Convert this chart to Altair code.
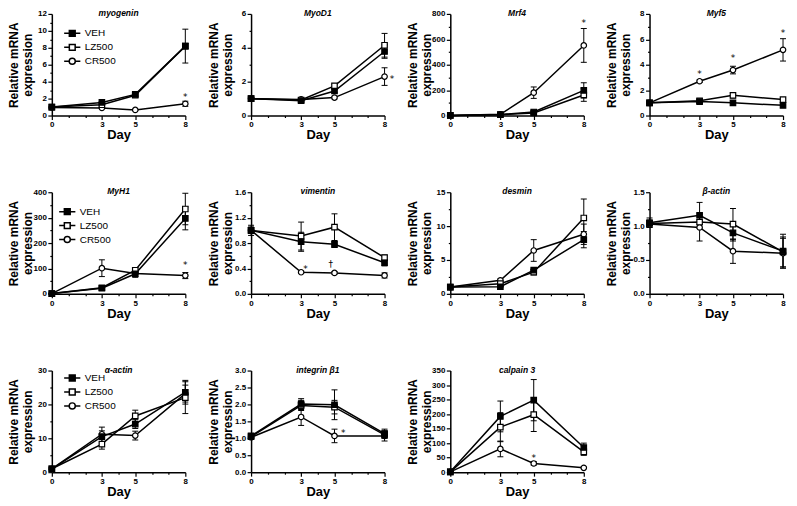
import altair as alt
import numpy as np
import pandas as pd

FONT = "Liberation Sans"
DAYS = [0, 3, 5, 8]
GROUPS = ["VEH", "LZ500", "CR500"]

MYOGENIN_MEAN = {"VEH": [1.0, 1.55, 2.5, 8.2], "LZ500": [1.0, 1.27, 2.4, 8.2], "CR500": [0.95, 0.9, 0.66, 1.39]}
MYOGENIN_ERR = {"VEH": [0.1, 0.1, 0.15, 2.0], "LZ500": [0.1, 0.1, 0.15, 0.3], "CR500": [0.05, 0.05, 0.05, 0.3]}

MYOD1_MEAN = {"VEH": [1.0, 0.87, 1.45, 3.78], "LZ500": [1.0, 0.92, 1.75, 4.15], "CR500": [1.0, 0.95, 1.06, 2.3]}
MYOD1_ERR = {"VEH": [0.05, 0.05, 0.1, 0.4], "LZ500": [0.05, 0.05, 0.1, 0.7], "CR500": [0.05, 0.05, 0.08, 0.52]}

MRF4_MEAN = {"VEH": [1, 8, 28, 198], "LZ500": [1, 6, 20, 162], "CR500": [1, 10, 180, 552]}
MRF4_ERR = {"VEH": [0, 3, 5, 60], "LZ500": [0, 3, 5, 50], "CR500": [0, 3, 45, 133]}

MYF5_MEAN = {"VEH": [1.0, 1.1, 1.0, 0.8], "LZ500": [1.0, 1.16, 1.59, 1.26], "CR500": [1.0, 2.7, 3.58, 5.17]}
MYF5_ERR = {"VEH": [0.05, 0.05, 0.05, 0.05], "LZ500": [0.05, 0.1, 0.2, 0.08], "CR500": [0.05, 0.1, 0.3, 0.88]}

MYH1_MEAN = {"VEH": [1, 22, 79, 297], "LZ500": [1, 24, 93, 334], "CR500": [1, 101, 80, 72]}
MYH1_ERR = {"VEH": [0, 3, 10, 45], "LZ500": [0, 3, 8, 62], "CR500": [0, 33, 15, 12]}

VIMENTIN_MEAN = {"VEH": [1.0, 0.82, 0.78, 0.49], "LZ500": [1.0, 0.91, 1.05, 0.57], "CR500": [1.0, 0.34, 0.33, 0.29]}
VIMENTIN_ERR = {"VEH": [0.05, 0.15, 0.05, 0.05], "LZ500": [0.08, 0.22, 0.21, 0.04], "CR500": [0.05, 0.02, 0.02, 0.04]}

DESMIN_MEAN = {"VEH": [1.0, 1.05, 3.5, 8.0], "LZ500": [1.0, 1.5, 3.2, 11.2], "CR500": [1.0, 2.0, 6.4, 8.8]}
DESMIN_ERR = {"VEH": [0.1, 0.1, 0.3, 1.2], "LZ500": [0.1, 0.2, 0.4, 2.8], "CR500": [0.1, 0.2, 1.6, 1.5]}

BACTIN_MEAN = {"VEH": [1.05, 1.16, 0.9, 0.63], "LZ500": [1.04, 1.06, 1.03, 0.62], "CR500": [1.03, 0.98, 0.63, 0.6]}
BACTIN_ERR = {"VEH": [0.07, 0.19, 0.12, 0.25], "LZ500": [0.05, 0.04, 0.23, 0.22], "CR500": [0.05, 0.2, 0.18, 0.22]}

AACTIN_MEAN = {"VEH": [1, 10.5, 14.2, 23.6], "LZ500": [1, 8.3, 16.6, 22.0], "CR500": [1, 11.2, 10.8, 23.2]}
AACTIN_ERR = {"VEH": [0.3, 2.8, 1.3, 3.5], "LZ500": [0.3, 1.5, 1.7, 4.7], "CR500": [0.3, 1.0, 1.3, 2.5]}

INTEGRIN_MEAN = {"VEH": [1.07, 2.01, 1.99, 1.14], "LZ500": [1.05, 1.97, 1.92, 1.1], "CR500": [1.03, 1.63, 1.07, 1.07]}
INTEGRIN_ERR = {"VEH": [0.07, 0.16, 0.44, 0.13], "LZ500": [0.05, 0.15, 0.2, 0.1], "CR500": [0.05, 0.25, 0.2, 0.15]}

CALPAIN_MEAN = {"VEH": [1, 192, 248, 85], "LZ500": [1, 155, 198, 70], "CR500": [1, 80, 30, 15]}
CALPAIN_ERR = {"VEH": [0, 53, 71, 15], "LZ500": [0, 50, 58, 12], "CR500": [0, 27, 6, 3]}

# significance marks: panel, day position, value, symbol
NOTE_PANEL = ["myogenin", "MyoD1", "Mrf4", "Myf5", "Myf5", "Myf5", "MyH1", "vimentin", "vimentin", "integrin β1", "calpain 3"]
NOTE_DAY = [8, 8.45, 8, 3, 5, 8, 8, 3.26, 4.77, 5.52, 5]
NOTE_VALUE = [2.4, 2.3, 745, 3.45, 4.65, 6.68, 120, 0.42, 0.5, 1.21, 57]
NOTE_TEXT = ["*", "*", "*", "*", "*", "*", "*", "*", "†", "*", "*"]

W, H = 134, 102

SQ_PATH = "M-1.25,0H-0.45M0.45,0H1.25M-0.45,-0.45H0.45V0.45H-0.45Z"
CI_PATH = "M-1.25,0H-0.47M0.47,0H1.25M0.47,0A0.47,0.47,0,1,1,-0.47,0A0.47,0.47,0,1,1,0.47,0Z"
POINT_STYLE = {"VEH": ("square", "black"), "LZ500": ("square", "white"), "CR500": ("circle", "white")}
DRAW_ORDER = ["CR500", "LZ500", "VEH"]


def major_test(step):
    return f"abs(datum.value / {step} - round(datum.value / {step})) < 0.001"


def make_panel(name, mean, err, ymax, major, minor, fmt, legend_pos=None):
    rows = []
    for g in GROUPS:
        for d, m, e in zip(DAYS, mean[g], err[g]):
            rows.append({"day": d, "group": g, "mean": m, "lo": m - e, "hi": m + e})
    df = pd.DataFrame(rows)

    ticks = [round(float(v), 4) for v in np.arange(0, ymax + minor / 2, minor)]
    ytest = major_test(major)
    yaxis = alt.Axis(
        values=ticks, format=fmt, labelExpr=f"{ytest} ? datum.label : ''",
        tickSize={"condition": {"test": ytest, "value": 4}, "value": 2},
        minExtent=15, maxExtent=15, titlePadding=2, labelOverlap=False,
    )
    xtest = "indexof([0, 3, 5, 8], datum.value) >= 0"
    xaxis = alt.Axis(
        values=list(range(9)), format="d", labelExpr=f"{xtest} ? datum.label : ''",
        tickSize={"condition": {"test": xtest, "value": 4}, "value": 2},
        labelFlush=False, labelOverlap=False, titlePadding=0,
    )
    xs = alt.Scale(domain=[0, 8], nice=False, zero=False)
    ys = alt.Scale(domain=[0, ymax], nice=False)
    ytitle = ["Relative mRNA", "expression"]

    def X():
        return alt.X("day:Q", scale=xs, axis=xaxis, title="Day")

    def Y(field):
        return alt.Y(f"{field}:Q", scale=ys, axis=yaxis, title=ytitle)

    base = alt.Chart(df)
    rule = base.mark_rule(color="black", strokeWidth=1).encode(x=X(), y=Y("lo"), y2="hi:Q")
    cap_lo = base.mark_tick(orient="horizontal", color="black", size=6, thickness=1, opacity=1).encode(x=X(), y=Y("lo"))
    cap_hi = base.mark_tick(orient="horizontal", color="black", size=6, thickness=1, opacity=1).encode(x=X(), y=Y("hi"))
    line = base.mark_line(color="black", strokeWidth=1.5).encode(x=X(), y=Y("mean"), detail="group:N")
    layers = [rule, cap_lo, cap_hi, line]

    for g in DRAW_ORDER:
        shp, fil = POINT_STYLE[g]
        layers.append(
            base.transform_filter(alt.datum.group == g)
            .mark_point(shape=shp, filled=True, fill=fil, stroke="black", strokeWidth=1.2, size=30, opacity=1)
            .encode(x=X(), y=Y("mean"))
        )

    if legend_pos is not None:
        leg = alt.Legend(
            orient="none", legendX=legend_pos[0], legendY=legend_pos[1],
            symbolSize=169, labelFontSize=10, labelFont=FONT, labelColor="black",
            labelOffset=5, rowPadding=-3, padding=0,
            symbolStrokeWidth=1.5, symbolOpacity=1,
        )
        layers.append(
            base.transform_filter("false")
            .mark_point(filled=True, strokeWidth=1.5, opacity=1)
            .encode(
                x=X(), y=Y("mean"),
                shape=alt.Shape("group:N", scale=alt.Scale(domain=GROUPS, range=[SQ_PATH, SQ_PATH, CI_PATH]), legend=leg, title=None),
                fill=alt.Fill("group:N", scale=alt.Scale(domain=GROUPS, range=["black", "white", "white"]), legend=leg, title=None),
                stroke=alt.Stroke("group:N", scale=alt.Scale(domain=GROUPS, range=["black", "black", "black"]), legend=leg, title=None),
            )
        )

    notes = pd.DataFrame({"panel": NOTE_PANEL, "day": NOTE_DAY, "y": NOTE_VALUE, "txt": NOTE_TEXT})
    notes = notes[notes["panel"] == name]
    if len(notes):
        layers.append(
            alt.Chart(notes).mark_text(font="DejaVu Sans", fontSize=9, color="black", baseline="middle", dy=2)
            .encode(x=X(), y=Y("y"), text="txt:N")
        )

    # panel name drawn at the top centre of the plot area
    layers.append(
        alt.Chart(pd.DataFrame({"t": [name]}))
        .mark_text(font=FONT, fontSize=8.5, fontStyle="italic", fontWeight="bold", color="black", baseline="middle")
        .encode(x=alt.value(W / 2), y=alt.value(-1), text="t:N")
    )

    return alt.layer(*layers).properties(width=W, height=H)


panels = [
    make_panel("myogenin", MYOGENIN_MEAN, MYOGENIN_ERR, 12, 2, 1, "d", (13, 12)),
    make_panel("MyoD1", MYOD1_MEAN, MYOD1_ERR, 6, 2, 1, "d"),
    make_panel("Mrf4", MRF4_MEAN, MRF4_ERR, 800, 200, 100, "d"),
    make_panel("Myf5", MYF5_MEAN, MYF5_ERR, 8, 2, 1, "d"),
    make_panel("MyH1", MYH1_MEAN, MYH1_ERR, 400, 100, 50, "d", (8, 12)),
    make_panel("vimentin", VIMENTIN_MEAN, VIMENTIN_ERR, 1.6, 0.4, 0.2, ".1f"),
    make_panel("desmin", DESMIN_MEAN, DESMIN_ERR, 15, 5, 2.5, "d"),
    make_panel("β-actin", BACTIN_MEAN, BACTIN_ERR, 1.5, 0.5, 0.25, ".1f"),
    make_panel("α-actin", AACTIN_MEAN, AACTIN_ERR, 30, 10, 5, "d", (13, 0)),
    make_panel("integrin β1", INTEGRIN_MEAN, INTEGRIN_ERR, 3.0, 0.5, 0.5, ".1f"),
    make_panel("calpain 3", CALPAIN_MEAN, CALPAIN_ERR, 350, 50, 50, "d"),
]

chart = (
    alt.concat(*panels, columns=4, spacing={"row": 77, "column": 66}, bounds="flush")
    .resolve_scale(shape="independent", fill="independent", stroke="independent")
    .resolve_legend(shape="independent", fill="independent", stroke="independent")
    .properties(padding=0)
    .configure_view(stroke=None)
    .configure_axis(
        labelFont=FONT, labelFontSize=8, labelFontWeight="bold", labelColor="black", labelPadding=1.5,
        titleFont=FONT, titleFontWeight="bold", titleColor="black",
        domainColor="black", domainWidth=1.5, tickColor="black", tickWidth=1.2, grid=False,
    )
    .configure_axisY(titleFontSize=12, titleLineHeight=14)
    .configure_axisX(titleFontSize=13)
)

chart.save("out.html", embed_options={"renderer": "svg", "actions": False})
